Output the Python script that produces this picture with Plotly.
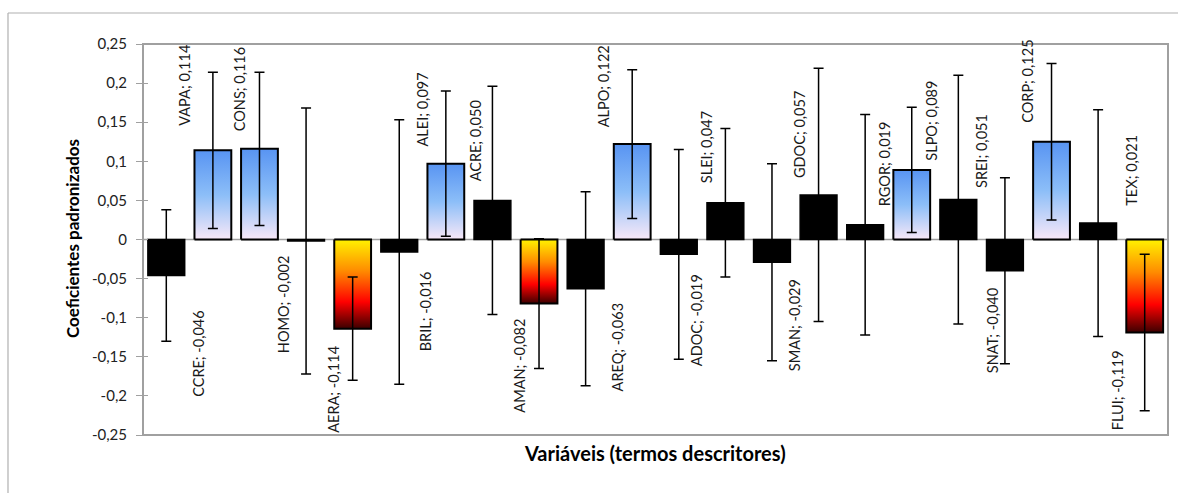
import plotly.graph_objects as go

# ---------------- data ----------------
variables = ["CCRE", "VAPA", "CONS", "HOMO", "AERA", "BRIL", "ALEI", "ACRE", "AMAN", "AREQ", "ALPO",
             "ADOC", "SLEI", "SMAN", "GDOC", "RGOR", "SLPO", "SREI", "SNAT", "CORP", "TEX", "FLUI"]
coefficients = [-0.046, 0.114, 0.116, -0.002, -0.114, -0.016, 0.097, 0.050, -0.082, -0.063, 0.122,
                -0.019, 0.047, -0.029, 0.057, 0.019, 0.089, 0.051, -0.040, 0.125, 0.021, -0.119]
errors = [0.084, 0.100, 0.098, 0.170, 0.066, 0.169, 0.093, 0.146, 0.083, 0.124, 0.095,
          0.134, 0.095, 0.126, 0.162, 0.141, 0.080, 0.159, 0.119, 0.100, 0.145, 0.100]
blue_vars = ["VAPA", "CONS", "ALEI", "ALPO", "SLPO", "CORP"]
warm_vars = ["AERA", "AMAN", "FLUI"]
y_tick_values = [0.25, 0.2, 0.15, 0.1, 0.05, 0, -0.05, -0.1, -0.15, -0.2, -0.25]
y_tick_labels = ["0,25", "0,2", "0,15", "0,1", "0,05", "0", "-0,05", "-0,1", "-0,15", "-0,2", "-0,25"]
y_title = "Coeficientes padronizados"
x_title = "Variáveis (termos descritores)"

# ---------------- style ----------------
# horizontal / vertical pixel offsets of the rotated data labels
label_dx = [32, -28, -20, -23, -20, 26, -23, -17, -19, 32, -29,
            18, -19, 22, -19, 19, 20, 23, -13, -24, 33, -27]
label_gap = [33, 23, 16, 12, 15, 17, 15, 17, 13, 13, 15,
             18, 18, 15, 15, 16, 7, 10, 15, 17, 15, 16]
FONT = "Lato"
BAR_W = 0.79
GRAY = "#A0A0A0"
W, H = 1178, 493
L, R, T, B = 143, 1168, 44, 435
blue_scale = [[0, "#F8E8F8"], [0.5, "#8CBEF8"], [1, "#5894F2"]]
warm_scale = [[0, "#3C0000"], [0.3, "#FF0000"], [0.65, "#FF8C00"], [1, "#FFF200"]]


def px_x(p):
    return (p - L) / (R - L)


def px_y(p):
    return (B - p) / (B - T)


idx = list(range(len(variables)))
fig = go.Figure()

# black bars
black_vals = [v if (n not in blue_vars and n not in warm_vars) else None
              for n, v in zip(variables, coefficients)]
fig.add_trace(go.Bar(x=idx, y=black_vals, width=BAR_W,
                     marker=dict(color="black", line=dict(color="black", width=1.5)),
                     showlegend=False, hoverinfo="skip"))

# gradient bars
for i, (n, v) in enumerate(zip(variables, coefficients)):
    if n in blue_vars or n in warm_vars:
        x0, x1 = i - BAR_W / 2, i + BAR_W / 2
        fig.add_trace(go.Scatter(
            x=[x0, x0, x1, x1, x0], y=[0, v, v, 0, 0],
            mode="lines", fill="toself",
            line=dict(color="black", width=2),
            fillgradient=dict(type="vertical",
                              colorscale=blue_scale if n in blue_vars else warm_scale),
            showlegend=False, hoverinfo="skip"))

# error bars
fig.add_trace(go.Scatter(x=idx, y=coefficients, mode="markers",
                         marker=dict(size=1, color="rgba(0,0,0,0)"),
                         error_y=dict(type="data", array=errors, visible=True,
                                      color="black", thickness=1.5, width=5),
                         showlegend=False, hoverinfo="skip"))

# data labels
for i, (n, v) in enumerate(zip(variables, coefficients)):
    txt = f"{n}; {v:.3f}".replace(".", ",")
    pos = v > 0
    fig.add_annotation(x=i, y=v, xref="x", yref="y", text=txt, textangle=-90,
                       showarrow=False, xanchor="center",
                       yanchor="bottom" if pos else "top",
                       xshift=label_dx[i], yshift=label_gap[i] if pos else -label_gap[i],
                       font=dict(family=FONT, size=14.5, color="#1a1a1a"))

# axis titles
fig.add_annotation(x=px_x(72), y=px_y(239), xref="paper", yref="paper", text=f"<b>{y_title}</b>",
                   textangle=-90, showarrow=False, xanchor="center", yanchor="middle",
                   font=dict(family=FONT, size=17, color="black"))
fig.add_annotation(x=px_x(655), y=px_y(453), xref="paper", yref="paper", text=f"<b>{x_title}</b>",
                   showarrow=False, xanchor="center", yanchor="middle",
                   font=dict(family=FONT, size=20, color="black"))

shapes = [
    # plot area frame
    dict(type="rect", xref="paper", yref="paper", x0=0, x1=1, y0=0, y1=1,
         line=dict(color=GRAY, width=2), layer="above"),
    # zero line
    dict(type="line", xref="paper", yref="y", x0=0, x1=1, y0=0, y1=0,
         line=dict(color=GRAY, width=1.5), layer="below"),
    # outer chart border
    dict(type="line", xref="paper", yref="paper", x0=px_x(8), x1=px_x(1180), y0=px_y(13), y1=px_y(13),
         line=dict(color="#B0B0B0", width=1.2)),
    dict(type="line", xref="paper", yref="paper", x0=px_x(8), x1=px_x(8), y0=px_y(13), y1=px_y(500),
         line=dict(color="#B0B0B0", width=1.2)),
]

fig.update_layout(
    width=W, height=H,
    margin=dict(l=L, r=W - R, t=T, b=H - B, pad=0),
    paper_bgcolor="white", plot_bgcolor="white",
    showlegend=False, barmode="overlay",
    shapes=shapes,
    xaxis=dict(range=[-0.5, len(variables) - 0.5], showticklabels=False, ticks="",
               showgrid=False, zeroline=False, showline=False),
    yaxis=dict(range=[-0.25, 0.25], tickvals=y_tick_values, ticktext=y_tick_labels,
               ticks="outside", ticklen=6, tickwidth=1.2, tickcolor=GRAY,
               ticklabelstandoff=6,
               tickfont=dict(family=FONT, size=15, color="#222"),
               showgrid=False, zeroline=False, showline=False),
    yaxis2=dict(range=[-0.25, 0.25], tickvals=y_tick_values, overlaying="y", side="left",
                ticks="inside", ticklen=5, tickwidth=1.2, tickcolor=GRAY,
                showticklabels=False, showgrid=False, zeroline=False, showline=False),
)
# dummy trace to show the second axis
fig.add_trace(go.Scatter(x=[0], y=[0], yaxis="y2", mode="markers",
                         marker=dict(size=1, color="rgba(0,0,0,0)"), showlegend=False, hoverinfo="skip"))

fig.write_html("out.html")
